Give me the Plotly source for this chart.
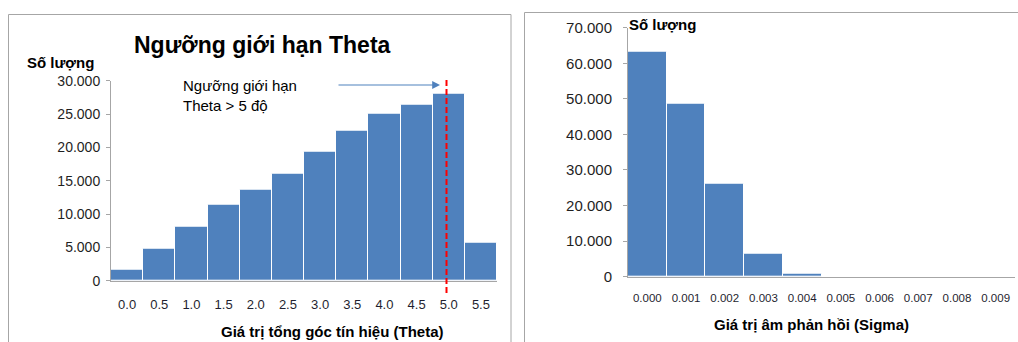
import plotly.graph_objects as go

# ---------------- data ----------------
theta_bins = ["0.0", "0.5", "1.0", "1.5", "2.0", "2.5", "3.0", "3.5", "4.0", "4.5", "5.0", "5.5"]
theta_counts = [1600, 4750, 8050, 11350, 13600, 16100, 19350, 22450, 25000, 26450, 28100, 5750]

sigma_bins = ["0.000", "0.001", "0.002", "0.003", "0.004", "0.005", "0.006", "0.007", "0.008", "0.009"]
sigma_counts = [63200, 48700, 26200, 6400, 800, 0, 0, 0, 0, 0]

theta_threshold = "5.0"

left_title = "Ngưỡng giới hạn Theta"
y_label = "Số lượng"
left_xtitle = "Giá trị tổng góc tín hiệu (Theta)"
right_xtitle = "Giá trị âm phản hồi (Sigma)"
threshold_note = "Ngưỡng giới hạn<br>Theta > 5 độ"

# ---------------- layout helpers ----------------
W, H = 1018, 342
def px(x):
    return x / W
def py(y):
    return 1 - y / H

BAR = "#4F81BD"
AXIS = "#A6A6A6"
FONT = "Liberation Sans, Arial, sans-serif"

fig = go.Figure()
fig.add_trace(go.Bar(x=theta_bins, y=theta_counts, marker=dict(color=BAR, line=dict(color="white", width=1)),
                     xaxis="x", yaxis="y", showlegend=False, hoverinfo="x+y"))
fig.add_trace(go.Bar(x=sigma_bins, y=sigma_counts, marker=dict(color=BAR, line=dict(color="white", width=1)),
                     xaxis="x2", yaxis="y2", showlegend=False, hoverinfo="x+y"))

common_x = dict(type="category", showgrid=False, zeroline=False, showline=True, linecolor=AXIS, linewidth=1,
                ticks="", automargin=False, tickfont=dict(family=FONT, color="#1F1F1F"))
common_y = dict(showgrid=False, zeroline=False, showline=True, linecolor=AXIS, linewidth=1,
                ticks="outside", ticklen=4, tickcolor=AXIS, tickformat=",d", automargin=False,
                tickfont=dict(family=FONT, color="#1F1F1F"))

fig.update_layout(
    template="none",
    width=W, height=H, autosize=False, margin=dict(l=0, r=0, t=0, b=0, pad=0),
    paper_bgcolor="white", plot_bgcolor="white",
    bargap=0, separators=",.",
    font=dict(family=FONT, color="#000000"),
    xaxis=dict(common_x, domain=[px(111), px(497)], anchor="y", range=[-0.5, 11.5],
               tickfont=dict(family=FONT, size=13, color="#1F1F2F"), ticklabelstandoff=12),
    yaxis=dict(common_y, domain=[py(280.7), py(80.7)], anchor="x", range=[0, 30000], dtick=5000,
               tickfont=dict(family=FONT, size=14, color="#1F1F1F"), ticklabelstandoff=3),
    xaxis2=dict(common_x, domain=[px(628), px(1015)], anchor="y2", range=[-0.5, 9.5],
                tickfont=dict(family=FONT, size=11.5, color="#1F1F2F"), ticklabelstandoff=10),
    yaxis2=dict(common_y, domain=[py(276.7), py(27.7)], anchor="x2", range=[0, 70000], dtick=10000,
                tickfont=dict(family=FONT, size=15, color="#1F1F1F"), ticklabelstandoff=8),
)

# panel frames
fig.add_shape(type="rect", xref="paper", yref="paper", x0=px(8.5), x1=px(511), y0=py(345), y1=py(14.5),
              line=dict(color=AXIS, width=1), fillcolor="rgba(0,0,0,0)", layer="below")
fig.add_shape(type="rect", xref="paper", yref="paper", x0=px(524.5), x1=px(1025), y0=py(345), y1=py(12.5),
              line=dict(color=AXIS, width=1), fillcolor="rgba(0,0,0,0)", layer="below")

# threshold line
fig.add_shape(type="line", xref="x", yref="paper", x0=theta_bins.index(theta_threshold) - 0.07,
              x1=theta_bins.index(theta_threshold) - 0.07, y0=py(293), y1=py(78),
              line=dict(color="#FF0000", width=2, dash="6px,3px"))

# arrow
fig.add_annotation(xref="paper", yref="paper", x=px(440), y=py(85), ax=-103, ay=0,
                   axref="pixel", ayref="pixel", text="", showarrow=True, arrowhead=2, arrowsize=1.3,
                   arrowwidth=1.2, arrowcolor=BAR)

texts = [
    dict(x=px(262), y=py(45), text=f"<b>{left_title}</b>", size=23, xanchor="center"),
    dict(x=px(25), y=py(62), text=f"<b>{y_label}</b>", size=15, xanchor="left"),
    dict(x=px(627), y=py(25), text=f"<b>{y_label}</b>", size=15, xanchor="left"),
    dict(x=px(332), y=py(331), text=f"<b>{left_xtitle}</b>", size=15, xanchor="center"),
    dict(x=px(811), y=py(324), text=f"<b>{right_xtitle}</b>", size=15, xanchor="center"),
]
for t in texts:
    fig.add_annotation(xref="paper", yref="paper", x=t["x"], y=t["y"], text=t["text"], showarrow=False,
                       xanchor=t["xanchor"], yanchor="middle", font=dict(family=FONT, size=t["size"], color="#000"))

fig.add_annotation(xref="paper", yref="paper", x=px(181), y=py(95), text=threshold_note, showarrow=False,
                   xanchor="left", yanchor="middle", align="left",
                   font=dict(family=FONT, size=15, color="#000"))

fig.write_html(
    "out.html",
    config={"responsive": False, "displayModeBar": False},
    post_script="document.body.style.margin='0';document.body.style.overflow='hidden';",
)
